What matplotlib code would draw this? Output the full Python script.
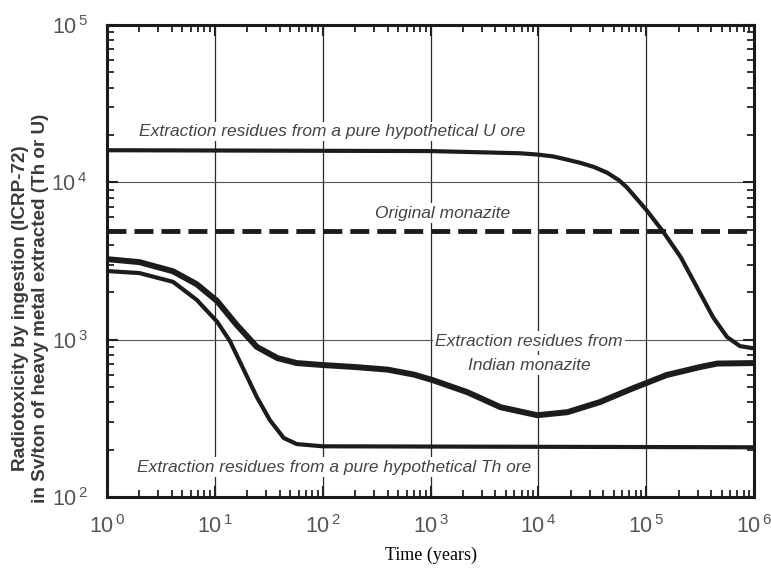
import math
import matplotlib
matplotlib.use("Agg")
import matplotlib.pyplot as plt
from matplotlib.ticker import FixedLocator, LogLocator, NullFormatter, FuncFormatter

plt.rcParams['font.family'] = ['Liberation Sans', 'DejaVu Sans']
plt.rcParams['mathtext.fontset'] = 'custom'
plt.rcParams['mathtext.rm'] = 'Liberation Sans'
plt.rcParams['mathtext.it'] = 'Liberation Sans:italic'

# ---- data ----
u_years = [1, 1000, 3160, 6760, 1e4, 13800, 18000, 24500, 33000, 43600, 56000,
           66100, 80000, 1e5, 144500, 209000, 295000, 417000, 562000, 741000, 1e6]
u_values = [16000, 15800, 15500, 15300, 15000, 14600, 14000, 13300, 12500, 11500,
            10300, 9300, 8000, 6700, 4830, 3350, 2160, 1390, 1040, 910, 880]

monazite_years = [1, 1e6]
monazite_values = [4900, 4900]

indian_years = [1, 2.0, 4.1, 6.8, 10.5, 15.8, 24.5, 38, 57.5, 100, 200, 400, 700,
                1050, 2190, 4470, 9770, 18600, 37200, 75900, 155000, 316000,
                457000, 1e6]
indian_values = [3250, 3110, 2720, 2250, 1760, 1250, 900, 764, 710, 690, 670, 645,
                 600, 553, 464, 372, 331, 346, 401, 492, 596, 670, 705, 710]

th_years = [1, 2.0, 4.1, 6.8, 10.5, 13.8, 18.6, 24.5, 32.4, 43.6, 57.5, 100, 1e6]
th_values = [2730, 2650, 2330, 1790, 1300, 980, 641, 432, 308, 237, 217, 210, 207]

x_ticks = [1, 10, 100, 1e3, 1e4, 1e5, 1e6]
y_ticks = [100, 1e3, 1e4, 1e5]
x_label = "Time (years)"
y_label = "Radiotoxicity by ingestion (ICRP-72)\nin Sv/ton of heavy metal extracted (Th or U)"

# ---- figure ----
fig = plt.figure(figsize=(7.71, 5.73), dpi=100)
ax = fig.add_axes([107/771, 1 - 497/573, (754-107)/771, (497-25)/573])
ax.set_xscale('log')
ax.set_yscale('log')
ax.set_xlim(1, 1e6)
ax.set_ylim(100, 1e5)

line_col = '#1c1c1c'
txt_col = '#444444'

# grid
for xv in x_ticks[1:-1]:
    ax.axvline(xv, color='#2a2a2a', lw=0.9, zorder=1)
for yv in y_ticks[1:-1]:
    ax.axhline(yv, color='#555555', lw=0.8, zorder=1)

ax.plot(u_years, u_values, color=line_col, lw=3.0, solid_joinstyle='round',
        solid_capstyle='butt', zorder=4)
ax.plot(monazite_years, monazite_values, color=line_col, lw=3.5,
        dashes=(3.9, 1.65), zorder=4)
ax.plot(indian_years, indian_values, color=line_col, lw=4.3, solid_joinstyle='round',
        solid_capstyle='butt', zorder=4)
ax.plot(th_years, th_values, color=line_col, lw=3.0, solid_joinstyle='round',
        solid_capstyle='butt', zorder=4)

bbox = dict(facecolor='white', edgecolor='none', pad=1.5)
tkw = dict(color=txt_col, style='italic', fontsize=12.5, ha='center', va='center',
           zorder=3, bbox=bbox)
ax.text(123, 21000, "Extraction residues from a pure hypothetical U ore", **tkw)
ax.text(1300, 6380, "Original monazite", **tkw)
ax.text(8200, 980, "Extraction residues from", **tkw)
ax.text(8200, 690, "Indian monazite", **tkw)
ax.text(128, 155, "Extraction residues from a pure hypothetical Th ore", **tkw)

# ticks
fmt = FuncFormatter(lambda v, p: r'$\mathregular{10^{\,%d}}$' % round(math.log10(v)))
ax.xaxis.set_major_locator(FixedLocator(x_ticks))
ax.yaxis.set_major_locator(FixedLocator(y_ticks))
ax.xaxis.set_major_formatter(fmt)
ax.yaxis.set_major_formatter(fmt)
ax.xaxis.set_minor_locator(LogLocator(base=10, subs=range(2, 10), numticks=20))
ax.yaxis.set_minor_locator(LogLocator(base=10, subs=range(2, 10), numticks=20))
ax.xaxis.set_minor_formatter(NullFormatter())
ax.yaxis.set_minor_formatter(NullFormatter())
ax.tick_params(which='both', direction='in', top=True, right=True,
               color='#222222', labelcolor='#555555')
ax.tick_params(which='major', length=8, width=1.5, labelsize=15.5)
ax.tick_params(which='minor', length=5, width=1.3)
ax.tick_params(axis='x', which='major', pad=13)
ax.tick_params(axis='y', which='major', pad=14)

for s in ax.spines.values():
    s.set_linewidth(2.2)
    s.set_color('#1a1a1a')

ax.set_xlabel(x_label, family='Liberation Serif', fontsize=13, color='black', labelpad=6)
ax.set_ylabel(y_label, fontsize=13.6, fontweight='bold', color='#3a3a3a',
              linespacing=1.2)
ax.yaxis.set_label_coords(-0.09, 0.40)

fig.savefig('out.png', dpi=100)
